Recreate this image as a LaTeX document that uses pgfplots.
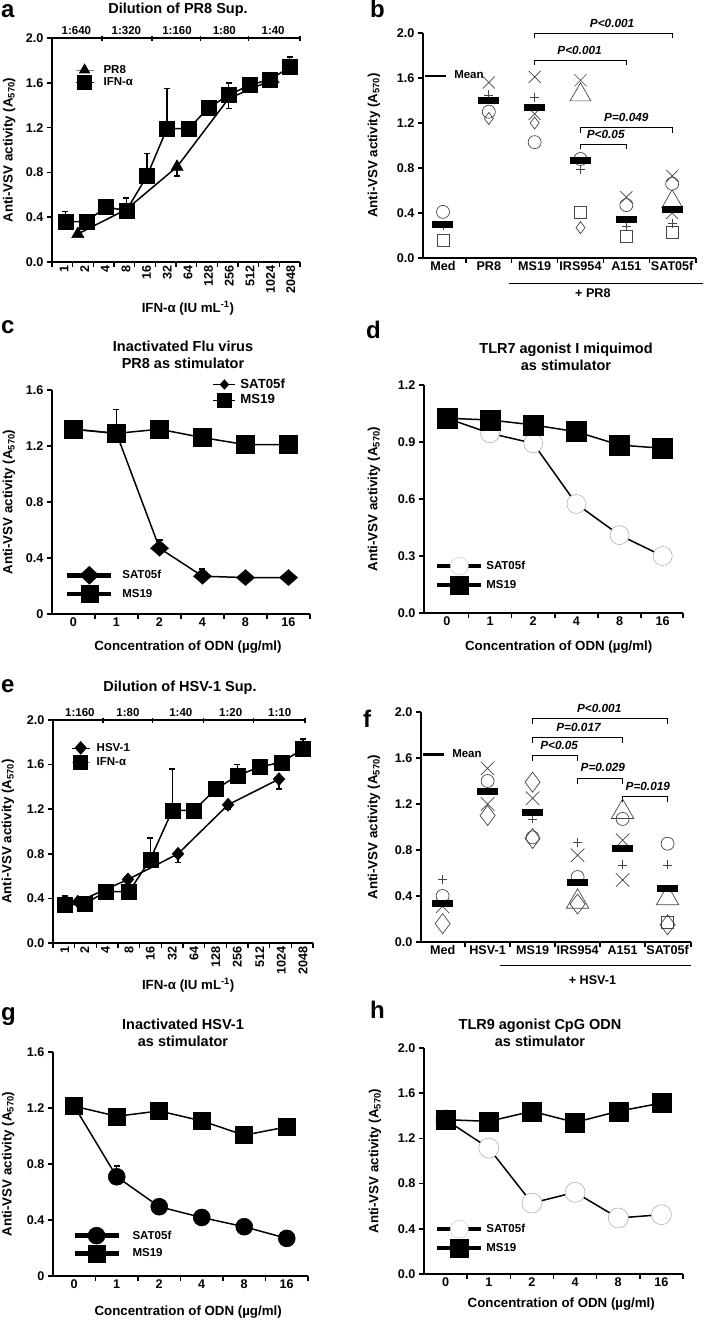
\documentclass[border=0pt]{standalone}
\usepackage{fontspec}
\setmainfont{Liberation Sans}
\usepackage{pgfplots}
\pgfplotsset{compat=1.18}

\newcommand{\tkf}{\fontsize{12.6}{14}\selectfont\bfseries}
\newcommand{\lbf}{\fontsize{13.3}{15}\selectfont\bfseries}
\newcommand{\ttf}{\fontsize{14.5}{17.5}\selectfont\bfseries}
\newcommand{\lgf}{\fontsize{11.5}{13}\selectfont\bfseries}
\newcommand{\lgbf}{\fontsize{13.2}{14}\selectfont\bfseries}
\newcommand{\pf}{\fontsize{11.8}{13}\selectfont\bfseries\itshape}
\newcommand{\ltf}{\fontsize{24}{24}\selectfont\bfseries}

\tikzset{brk/.style={line width=0.8pt, black}}
\pgfplotsset{
  pan/.style={
    scale only axis, anchor=south west, clip=false,
    axis x line=bottom, axis y line=left,
    axis line style={-, line width=2pt},
    every outer x axis line/.append style={-},
    every outer y axis line/.append style={-},
    tick align=outside, major tick length=5pt,
    every tick/.style={black, line width=1.5pt},
    tick label style={font=\tkf},
    label style={font=\lbf},
    ylabel={Anti-VSV activity (A\textsubscript{570})},
    legend style={draw=none, fill=none, font=\lgf, inner sep=0pt, column sep=0pt,
      nodes={inner sep=0pt}},
    legend cell align=left,
    extra x tick style={major tick length=0pt},
  },
  topax/.style={axis x line=top, axis y line=none, ytick=\empty, ylabel={},
    x axis line style={-}, every outer x axis line/.append style={-},
    every inner x axis line/.append style={-}},
  % legend image: line of length #1 with a mark in its middle, text starting at #2
  limg/.style 2 args={legend image code/.code={%
    \draw[mark repeat=2,mark phase=2,##1] plot coordinates {(0pt,0pt) ({#1/2},0pt) (#1,0pt)};
    \path[draw=none, fill=none] (0pt,0pt) -- (#2,0pt);}},
  ser/.style={black, line width=1.5pt},
  eb/.style={error bars/.cd, y dir=#1, y explicit,
    error bar style={line width=1.5pt, black},
    error mark options={rotate=90, mark size=3pt, line width=1.5pt, black}},
  sc/.style={only marks, forget plot, mark=#1, mark options={draw=gray!55!black, line width=0.7pt, fill=none}},
  meanbar/.style={only marks, forget plot, mark=-, mark size=10.5pt, mark options={line width=7pt, black}},
}

\begin{document}
\begin{tikzpicture}
\useasboundingbox (0,0) rectangle (706pt,-1322pt);

% panel letters
\node[font=\ltf, anchor=base west, inner sep=0pt] at (1pt,-18pt) {a};
\node[font=\ltf, anchor=base west, inner sep=0pt] at (370pt,-18pt) {b};
\node[font=\ltf, anchor=base west, inner sep=0pt] at (1pt,-333pt) {c};
\node[font=\ltf, anchor=base west, inner sep=0pt] at (366pt,-338pt) {d};
\node[font=\ltf, anchor=base west, inner sep=0pt] at (1pt,-692pt) {e};
\node[font=\ltf, anchor=base west, inner sep=0pt] at (363pt,-727pt) {f};
\node[font=\ltf, anchor=base west, inner sep=0pt] at (1pt,-1020pt) {g};
\node[font=\ltf, anchor=base west, inner sep=0pt] at (370pt,-1018pt) {h};

% titles
\node[font=\ttf] at (178pt,-10pt) {Dilution of PR8 Sup.};
\node[font=\ttf, align=center] at (183pt,-355pt) {Inactivated Flu virus\\PR8 as stimulator};
\node[font=\ttf, align=center] at (566pt,-357pt) {TLR7 agonist I miquimod\\as stimulator};
\node[font=\ttf] at (180pt,-688pt) {Dilution of HSV-1 Sup.};
\node[font=\ttf, align=center] at (183pt,-1033pt) {Inactivated HSV-1\\as stimulator};
\node[font=\ttf, align=center] at (540pt,-1033pt) {TLR9 agonist CpG ODN\\as stimulator};

%================ a
\begin{axis}[pan, at={(52pt,-262pt)}, width=248pt, height=224pt,
  xmin=0, xmax=12, ymin=0, ymax=2,
  xtick={0,1,2,3,4,5,6,7,8,9,10,11,12}, xticklabels={,,,,,,,,,,,,},
  extra x ticks={0.58,1.58,2.58,3.58,4.58,5.58,6.58,7.58,8.58,9.58,10.58,11.55},
  extra x tick labels={1,2,4,8,16,32,64,128,256,512,1024,2048},
  xticklabel style={rotate=90, anchor=east},
  ytick={0,0.4,0.8,1.2,1.6,2}, yticklabels={0.0,0.4,0.8,1.2,1.6,2.0},
  xlabel={IFN-α (IU mL\textsuperscript{-1})},
  xlabel style={at={(axis description cs:0.548,-0.205)}, anchor=center},
  ylabel style={at={(axis description cs:-0.173,0.5)}, anchor=center},
  limg={18pt}{28pt},
  legend style={at={(0.093,0.885)}, anchor=north west, row sep=1pt},
]
\addlegendimage{gray, line width=0.6pt, mark=triangle*, mark size=6pt, mark options={black, solid}}
\addlegendentry{PR8}
\addlegendimage{black, line width=0.6pt, mark=square*, mark size=7pt, mark options={black}}
\addlegendentry{IFN-α}
\addplot[ser, forget plot, mark=triangle*, mark size=7pt, mark options={line width=0.5pt}, eb=minus]
  table[row sep=\\, x=x, y=y, y error=e] {x y e\\ 1.25 0.25 0\\ 3.6 0.47 0\\ 6.05 0.85 0.08\\ 8.55 1.46 0.09\\ 10.7 1.63 0\\};
\addplot[ser, forget plot, mark=square*, mark size=7.5pt, mark options={line width=0.5pt}, eb=plus]
  table[row sep=\\, x=x, y=y, y error=e] {x y e\\ 0.65 0.36 0.09\\ 1.66 0.36 0\\ 2.6 0.49 0\\ 3.6 0.46 0.11\\ 4.6 0.77 0.20\\ 5.56 1.19 0.36\\ 6.6 1.19 0\\ 7.6 1.38 0\\ 8.55 1.49 0.11\\ 9.56 1.58 0\\ 10.56 1.63 0.05\\ 11.5 1.74 0.09\\};
\end{axis}
\begin{axis}[pan, topax, at={(52pt,-262pt)}, width=248pt, height=224pt,
  xmin=0, xmax=12, ymin=0, ymax=2,
  xtick={2.42,4.84,7.18,9.5,12}, xticklabels={,,,,},
  extra x ticks={1.18,3.6,6.05,8.34,10.7},
  extra x tick labels={1:640,1:320,1:160,1:80,1:40},
  tick label style={font=\lgf},
]
\addplot[draw=none, forget plot] coordinates {(0,0)};
\end{axis}

%================ b
\begin{axis}[pan, at={(423pt,-258pt)}, width=273pt, height=225pt,
  xmin=-0.436, xmax=5.52, ymin=0, ymax=2,
  xtick={0.5,1.5,2.5,3.5,4.5,5.52}, xticklabels={,,,,,},
  extra x ticks={0,1,2,3,4,5},
  extra x tick labels={Med,PR8,MS19,IRS954,A151,SAT05f},
  ytick={0,0.4,0.8,1.2,1.6,2}, yticklabels={0.0,0.4,0.8,1.2,1.6,2.0},
  ylabel style={at={(axis description cs:-0.18,0.5)}, anchor=center},
  legend image code/.code={\draw[#1] (0pt,0pt) -- (21pt,0pt); \path[draw=none] (0pt,0pt) -- (29pt,0pt);},
  legend style={at={(0.003,0.81)}, anchor=west},
]
\addlegendimage{black, line width=2.5pt}
\addlegendentry{Mean}
\addplot[sc=x, mark size=8.5pt] coordinates {(1,1.56) (2,1.61) (2,1.28) (3,1.58) (4,0.54) (5,0.73) (5,0.40)};
\addplot[sc=+, mark size=4.5pt] coordinates {(0,0.29) (1,1.45) (2,1.43) (3,0.79) (4,0.28) (5,0.31)};
\addplot[sc=o, mark size=6.5pt] coordinates {(0,0.41) (1,1.30) (2,1.03) (3,0.88) (4,0.47) (5,0.66)};
\addplot[sc=diamond, mark size=6pt] coordinates {(1,1.24) (2,1.20) (3,0.27)};
\addplot[sc=square, mark size=6pt] coordinates {(0,0.16) (3,0.41) (4,0.19) (5,0.23)};
\addplot[sc=triangle, mark size=12pt] coordinates {(3,1.45) (5,0.50)};
\addplot[meanbar] coordinates {(0,0.30) (1,1.40) (2,1.34) (3,0.87) (4,0.34) (5,0.43)};
\draw[brk] (axis cs:2,1.955) |- (axis cs:5,2.0) -- (axis cs:5,1.955);
\node[font=\pf, anchor=south] at (axis cs:3.69,2.02) {P<0.001};
\draw[brk] (axis cs:2,1.715) |- (axis cs:4,1.76) -- (axis cs:4,1.715);
\node[font=\pf, anchor=south] at (axis cs:2.98,1.78) {P<0.001};
\draw[brk] (axis cs:3,1.115) |- (axis cs:5,1.16) -- (axis cs:5,1.115);
\node[font=\pf, anchor=south] at (axis cs:4.0,1.18) {P=0.049};
\draw[brk] (axis cs:3,0.965) |- (axis cs:4,1.01) -- (axis cs:4,0.965);
\node[font=\pf, anchor=south] at (axis cs:3.55,1.03) {P<0.05};
\draw[line width=0.8pt] (axis cs:1.45,-0.229) -- (axis cs:5.67,-0.229);
\node[font=\tkf] at (axis cs:3.27,-0.315) {+ PR8};
\end{axis}

%================ c
\begin{axis}[pan, at={(52pt,-614pt)}, width=258pt, height=224pt,
  xmin=-0.5, xmax=5.5, ymin=0, ymax=1.6,
  xtick={0.5,1.5,2.5,3.5,4.5,5.5}, xticklabels={,,,,,},
  extra x ticks={0,1,2,3,4,5}, extra x tick labels={0,1,2,4,8,16},
  ytick={0,0.4,0.8,1.2,1.6}, yticklabels={0,0.4,0.8,1.2,1.6},
  xlabel={Concentration of ODN (µg/ml)},
  xlabel style={at={(axis description cs:0.527,-0.147)}, anchor=center},
  ylabel style={at={(axis description cs:-0.167,0.5)}, anchor=center},
  limg={22pt}{27pt},
  legend style={at={(0.623,1.05)}, anchor=north west, row sep=3pt, font=\lgbf},
]
\addlegendimage{black, line width=1pt, mark=diamond*, mark size=4.5pt, mark options={solid, xscale=1.2}}
\addlegendentry{SAT05f}
\addlegendimage{black, line width=1pt, mark=square*, mark size=7pt}
\addlegendentry{MS19}
\addplot[ser, forget plot, mark=diamond*, mark size=8pt, mark options={xscale=1.5, line width=0.5pt}, eb=plus]
  table[row sep=\\, x=x, y=y, y error=e] {x y e\\ 0 1.32 0\\ 1 1.29 0\\ 2 0.47 0.06\\ 3 0.27 0.05\\ 4 0.26 0\\ 5 0.26 0\\};
\addplot[ser, forget plot, mark=square*, mark size=9pt, mark options={line width=0.5pt}, eb=plus]
  table[row sep=\\, x=x, y=y, y error=e] {x y e\\ 0 1.32 0\\ 1 1.29 0.17\\ 2 1.32 0\\ 3 1.26 0\\ 4 1.21 0\\ 5 1.21 0\\};
\end{axis}
\begin{axis}[pan, at={(52pt,-614pt)}, width=258pt, height=224pt,
  xmin=-0.5, xmax=5.5, ymin=0, ymax=1.6, hide axis,
  limg={44pt}{55pt},
  legend style={at={(0.05,0.214)}, anchor=north west, row sep=1pt},
]
\addlegendimage{black, line width=4.5pt, mark=diamond*, mark size=9pt, mark options={solid, xscale=1.4, line width=0.5pt}}
\addlegendentry{SAT05f}
\addlegendimage{black, line width=4.5pt, mark=square*, mark size=8.5pt, mark options={solid, line width=0.5pt}}
\addlegendentry{MS19}
\end{axis}

%================ d
\begin{axis}[pan, at={(424pt,-613pt)}, width=259pt, height=228pt,
  xmin=-0.53, xmax=5.47, ymin=0, ymax=1.2,
  xtick={0.5,1.5,2.5,3.5,4.5,5.47}, xticklabels={,,,,,},
  extra x ticks={0,1,2,3,4,5}, extra x tick labels={0,1,2,4,8,16},
  ytick={0,0.3,0.6,0.9,1.2}, yticklabels={0.0,0.3,0.6,0.9,1.2},
  xlabel={Concentration of ODN (µg/ml)},
  xlabel style={at={(axis description cs:0.52,-0.149)}, anchor=center},
  ylabel style={at={(axis description cs:-0.193,0.5)}, anchor=center},
  limg={44pt}{49pt},
  legend style={at={(0.042,0.246)}, anchor=north west, row sep=1pt},
]
\addlegendimage{black, line width=4.5pt, mark=*, mark size=9pt, mark options={solid, fill=white, draw=gray!40, line width=0.5pt}}
\addlegendentry{SAT05f}
\addlegendimage{black, line width=4.5pt, mark=square*, mark size=9pt, mark options={solid, line width=0.5pt}}
\addlegendentry{MS19}
\addplot[ser, forget plot, mark=*, mark size=9.5pt, mark options={fill=white, draw=gray!60, line width=0.6pt}]
  coordinates {(0,1.025) (1,0.946) (2,0.893) (3,0.574) (4,0.41) (5,0.30)};
\addplot[ser, forget plot, mark=square*, mark size=10pt, mark options={line width=0.5pt}]
  coordinates {(0,1.025) (1,1.016) (2,0.99) (3,0.954) (4,0.884) (5,0.867)};
\end{axis}

%================ e
\begin{axis}[pan, at={(53pt,-943pt)}, width=260pt, height=223pt,
  xmin=0, xmax=12, ymin=0, ymax=2,
  xtick={0,1,2,3,4,5,6,7,8,9,10,11,12}, xticklabels={,,,,,,,,,,,,},
  extra x ticks={0.54,1.46,2.43,3.51,4.49,5.51,6.51,7.51,8.51,9.54,10.54,11.54},
  extra x tick labels={1,2,4,8,16,32,64,128,256,512,1024,2048},
  xticklabel style={rotate=90, anchor=east},
  ytick={0,0.4,0.8,1.2,1.6,2}, yticklabels={0.0,0.4,0.8,1.2,1.6,2.0},
  xlabel={IFN-α (IU mL\textsuperscript{-1})},
  xlabel style={at={(axis description cs:0.52,-0.188)}, anchor=center},
  ylabel style={at={(axis description cs:-0.173,0.5)}, anchor=center},
  limg={18pt}{25pt},
  legend style={at={(0.07,0.905)}, anchor=north west, row sep=1pt},
]
\addlegendimage{draw=none, mark=diamond*, mark size=6.5pt, mark options={black, solid, xscale=1.2}}
\addlegendentry{HSV-1}
\addlegendimage{gray, line width=0.6pt, mark=square*, mark size=7pt, mark options={black}}
\addlegendentry{IFN-α}
\addplot[ser, forget plot, mark=diamond*, mark size=6.5pt, mark options={xscale=1.2, line width=0.5pt}, eb=minus]
  table[row sep=\\, x=x, y=y, y error=e] {x y e\\ 1.15 0.37 0\\ 3.46 0.57 0\\ 5.77 0.80 0.08\\ 8.08 1.24 0.04\\ 10.43 1.47 0.09\\};
\addplot[ser, forget plot, mark=square*, mark size=7.5pt, mark options={line width=0.5pt}, eb=plus]
  table[row sep=\\, x=x, y=y, y error=e] {x y e\\ 0.54 0.34 0.08\\ 1.46 0.35 0\\ 2.43 0.46 0\\ 3.51 0.46 0\\ 4.49 0.75 0.19\\ 5.51 1.19 0.37\\ 6.51 1.19 0\\ 7.51 1.38 0\\ 8.51 1.50 0.10\\ 9.54 1.58 0\\ 10.54 1.62 0.04\\ 11.54 1.74 0.09\\};
\end{axis}
\begin{axis}[pan, topax, at={(53pt,-943pt)}, width=252pt, height=223pt,
  xmin=0, xmax=11.63, ymin=0, ymax=2,
  xtick={2.3,4.6,6.95,9.25,11.63}, xticklabels={,,,,},
  extra x ticks={1.24,3.46,5.9,8.2,10.46},
  extra x tick labels={1:160,1:80,1:40,1:20,1:10},
  tick label style={font=\lgf},
]
\addplot[draw=none, forget plot] coordinates {(0,0)};
\end{axis}

%================ f
\begin{axis}[pan, at={(421pt,-942pt)}, width=270pt, height=230pt,
  xmin=-0.48, xmax=5.52, ymin=0, ymax=2,
  xtick={0.5,1.5,2.5,3.5,4.5,5.52}, xticklabels={,,,,,},
  extra x ticks={0,1,2,3,4,5},
  extra x tick labels={Med,HSV-1,MS19,IRS954,A151,SAT05f},
  ytick={0,0.4,0.8,1.2,1.6,2}, yticklabels={0.0,0.4,0.8,1.2,1.6,2.0},
  ylabel style={at={(axis description cs:-0.174,0.5)}, anchor=center},
  legend image code/.code={\draw[#1] (0pt,0pt) -- (21pt,0pt); \path[draw=none] (0pt,0pt) -- (29pt,0pt);},
  legend style={at={(0.003,0.815)}, anchor=west},
]
\addlegendimage{black, line width=2.5pt}
\addlegendentry{Mean}
\addplot[sc=x, mark size=9.5pt] coordinates {(0,0.31) (1,1.51) (1,1.20) (2,1.25) (3,0.755) (4,0.885) (4,0.54)};
\addplot[sc=+, mark size=4.5pt] coordinates {(0,0.545) (2,1.07) (3,0.865) (4,0.67) (5,0.67)};
\addplot[sc=o, mark size=6.5pt] coordinates {(0,0.40) (1,1.40) (2,0.91) (3,0.565) (4,1.07) (5,0.855)};
\addplot[sc=diamond, mark size=10pt] coordinates {(0,0.16) (1,1.10) (2,1.39) (2,0.90) (3,0.33) (5,0.15)};
\addplot[sc=square, mark size=6pt] coordinates {(5,0.175)};
\addplot[sc=triangle, mark size=13pt] coordinates {(3,0.35) (4,1.13) (5,0.38)};
\addplot[meanbar] coordinates {(0,0.334) (1,1.31) (2,1.13) (3,0.52) (4,0.81) (5,0.465)};
\draw[brk] (axis cs:2,1.893) |- (axis cs:5,1.943) -- (axis cs:5,1.893);
\node[font=\pf, anchor=south] at (axis cs:3.48,1.963) {P<0.001};
\draw[brk] (axis cs:2,1.733) |- (axis cs:4,1.783) -- (axis cs:4,1.733);
\node[font=\pf, anchor=south] at (axis cs:3.02,1.803) {P=0.017};
\draw[brk] (axis cs:2,1.574) |- (axis cs:3,1.624) -- (axis cs:3,1.574);
\node[font=\pf, anchor=south] at (axis cs:2.59,1.644) {P<0.05};
\draw[brk] (axis cs:3,1.377) |- (axis cs:4,1.427) -- (axis cs:4,1.377);
\node[font=\pf, anchor=south] at (axis cs:3.56,1.447) {P=0.029};
\draw[brk] (axis cs:4,1.22) |- (axis cs:5,1.27) -- (axis cs:5,1.22);
\node[font=\pf, anchor=south] at (axis cs:4.56,1.29) {P=0.019};
\draw[line width=0.8pt] (axis cs:1.27,-0.2) -- (axis cs:5.53,-0.2);
\node[font=\tkf] at (axis cs:3.33,-0.33) {+ HSV-1};
\end{axis}

%================ g
\begin{axis}[pan, at={(53pt,-1276pt)}, width=255pt, height=224pt,
  xmin=-0.5, xmax=5.5, ymin=0, ymax=1.6,
  xtick={0.5,1.5,2.5,3.5,4.5,5.5}, xticklabels={,,,,,},
  extra x ticks={0,1,2,3,4,5}, extra x tick labels={0,1,2,4,8,16},
  ytick={0,0.4,0.8,1.2,1.6}, yticklabels={0,0.4,0.8,1.2,1.6},
  xlabel={Concentration of ODN (µg/ml)},
  xlabel style={at={(axis description cs:0.53,-0.16)}, anchor=center},
  ylabel style={at={(axis description cs:-0.176,0.5)}, anchor=center},
  limg={44pt}{58pt},
  legend style={at={(0.075,0.219)}, anchor=north west, row sep=1pt},
]
\addlegendimage{black, line width=4.5pt, mark=*, mark size=8.5pt, mark options={solid, line width=0.5pt}}
\addlegendentry{SAT05f}
\addlegendimage{black, line width=4.5pt, mark=square*, mark size=8.5pt, mark options={solid, line width=0.5pt}}
\addlegendentry{MS19}
\addplot[ser, forget plot, mark=*, mark size=8.5pt, mark options={line width=0.5pt}, eb=plus]
  table[row sep=\\, x=x, y=y, y error=e] {x y e\\ 0 1.213 0\\ 1 0.709 0.076\\ 2 0.495 0\\ 3 0.418 0\\ 4 0.352 0\\ 5 0.269 0\\};
\addplot[ser, forget plot, mark=square*, mark size=8.5pt, mark options={line width=0.5pt}]
  coordinates {(0,1.213) (1,1.141) (2,1.179) (3,1.108) (4,1.006) (5,1.065)};
\end{axis}

%================ h
\begin{axis}[pan, at={(424pt,-1274pt)}, width=259pt, height=226pt,
  xmin=-0.5, xmax=5.5, ymin=0, ymax=2,
  xtick={0.5,1.5,2.5,3.5,4.5,5.5}, xticklabels={,,,,,},
  extra x ticks={0,1,2,3,4,5}, extra x tick labels={0,1,2,4,8,16},
  ytick={0,0.4,0.8,1.2,1.6,2}, yticklabels={0.0,0.4,0.8,1.2,1.6,2.0},
  xlabel={Concentration of ODN (µg/ml)},
  xlabel style={at={(axis description cs:0.53,-0.135)}, anchor=center},
  ylabel style={at={(axis description cs:-0.189,0.5)}, anchor=center},
  limg={44pt}{49pt},
  legend style={at={(0.042,0.239)}, anchor=north west, row sep=1pt},
]
\addlegendimage{black, line width=4.5pt, mark=*, mark size=9pt, mark options={solid, fill=white, draw=gray!40, line width=0.5pt}}
\addlegendentry{SAT05f}
\addlegendimage{black, line width=4.5pt, mark=square*, mark size=9pt, mark options={solid, line width=0.5pt}}
\addlegendentry{MS19}
\addplot[ser, forget plot, mark=*, mark size=10pt, mark options={fill=white, draw=gray!60, line width=0.6pt}]
  coordinates {(0,1.366) (1,1.115) (2,0.628) (3,0.723) (4,0.496) (5,0.525)};
\addplot[ser, forget plot, mark=square*, mark size=9.5pt, mark options={line width=0.5pt}]
  coordinates {(0,1.366) (1,1.351) (2,1.44) (3,1.342) (4,1.44) (5,1.513)};
\end{axis}

\end{tikzpicture}
\end{document}
